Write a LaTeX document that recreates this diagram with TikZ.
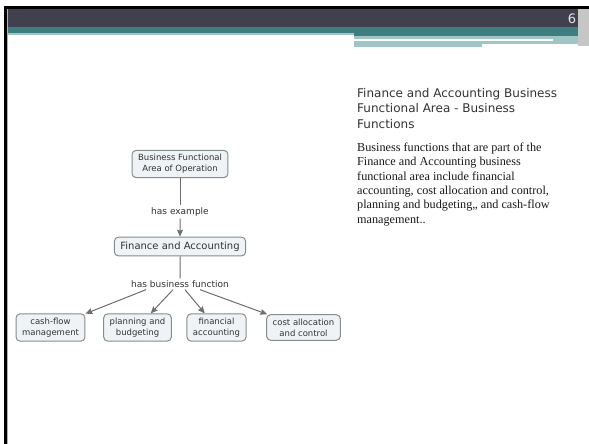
\documentclass[tikz,border=0pt]{standalone}
\usepackage{fontspec}
\setmainfont{Liberation Serif}
\setsansfont{DejaVu Sans}
\usetikzlibrary{arrows.meta, trees}

\definecolor{slidebar}{HTML}{41404F}
\definecolor{slideteal}{HTML}{3F7E80}
\definecolor{slidemist}{HTML}{A0C5C5}
\definecolor{boxfill}{HTML}{EFF3F5}
\definecolor{boxline}{HTML}{858D91}
\definecolor{linkgray}{HTML}{6E6E6E}

\tikzstyle{concept} = [draw=boxline, fill=boxfill, rounded corners=4pt, line width=1pt, align=center,
  font=\sffamily\fontsize{8.5}{11}\selectfont, text=black!80, inner xsep=6pt, inner ysep=4pt]
\tikzstyle{linkword} = [font=\sffamily\fontsize{9}{11}\selectfont, text=black!80, inner sep=2pt]
\tikzstyle{link} = [draw=linkgray, line width=1pt]
\tikzstyle{arrow} = [draw=linkgray, line width=1pt, -{Stealth[length=7pt,width=6pt,inset=1pt]}]
\tikzset{fan/.style={edge from parent path={([xshift=#1]\tikzparentnode.south) -- (\tikzchildnode)}}}

\begin{document}
\begin{tikzpicture}[x=1pt, y=1pt, grow=down,
  level 1/.style={level distance=48pt, edge from parent/.style={link}},
  level 2/.style={level distance=34.5pt, edge from parent/.style={arrow}},
  level 3/.style={level distance=37.5pt, edge from parent/.style={link}},
  level 4/.style={level distance=43.5pt, sibling distance=85pt, edge from parent/.style={arrow}}]
  \useasboundingbox[fill=white] (0,0) rectangle (589,-444);
  % slide header
  \fill[black] (4,-6) rectangle (589,-9);
  \fill[slidebar] (7,-9) rectangle (578,-27);
  \fill[slideteal] (7,-27) rectangle (578,-33);
  \fill[slideteal] (354,-33) rectangle (578,-36);
  \fill[slidemist] (7,-33) rectangle (354,-35.5);
  \fill[slidemist] (354,-36) rectangle (578,-44);
  \fill[slidemist] (354,-44) rectangle (482,-47);
  \draw[white, line width=1.2pt] (354,-40) -- (553,-40);
  \fill[gray!45] (578,-9) rectangle (589,-46);
  \fill[black] (4,-6) rectangle (7,-444);
  \draw[gray!60, line width=0.6pt] (7.5,-9) -- (7.5,-444);
  \node[text=black!10, font=\sffamily\fontsize{13}{13}\selectfont] (pagenum) at (572,-19) {6};

  % concept map
  \node[concept] (area) at (180,-164) {Business Functional\\Area of Operation}
    child {node[linkword] (example) {has example}
      child {node[concept, font=\sffamily\fontsize{10}{12}\selectfont, inner ysep=4.5pt] (finance) {Finance and Accounting}
        child {node[linkword] (function) {has business function}
          child[xshift=-2pt, fan=-34pt] {node[concept] (cashflow) {cash-flow\\management}}
          child[fan=-7pt] {node[concept] (planning) {planning and\\budgeting}}
          child[xshift=-6pt, fan=5pt] {node[concept] (financial) {financial\\accounting}}
          child[xshift=-4pt, fan=20pt] {node[concept] (cost) {cost allocation\\and control}}
        }
      }
    };

  % slide text
  \node[anchor=north west, inner sep=0pt, align=left, text=black!80,
    font=\sffamily\fontsize{12}{15.5}\selectfont] (title) at (357,-88)
    {Finance and Accounting Business\\Functional Area - Business\\Functions};
  \node[anchor=north west, inner sep=0pt, align=left, text=black!90,
    font=\fontsize{12.2}{14.4}\selectfont] (body) at (357,-142.5)
    {Business functions that are part of the\\Finance and Accounting business\\functional area include financial\\accounting, cost allocation and control,\\planning and budgeting,, and cash-flow\\management..};
\end{tikzpicture}
\end{document}
